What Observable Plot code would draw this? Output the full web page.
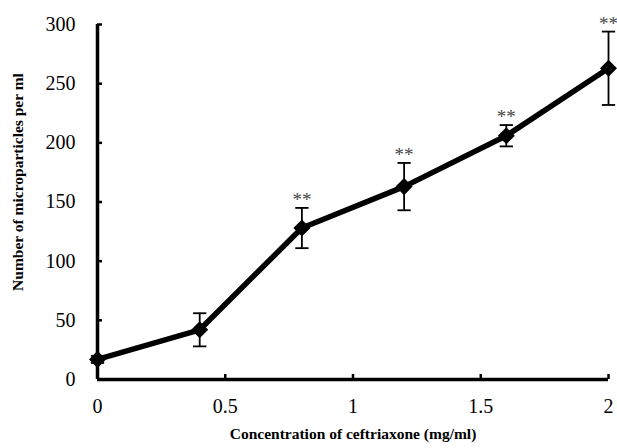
<!DOCTYPE html>
<html>
<head>
<meta charset="utf-8">
<script src="https://cdn.jsdelivr.net/npm/d3@7"></script>
<script src="https://cdn.jsdelivr.net/npm/@observablehq/plot@0.6"></script>
<style>
  html, body { margin: 0; padding: 0; background: #fff; }
  #chart svg { display: block; }
  #chart svg text { font-family: 'Liberation Serif', 'Times New Roman', serif; }
</style>
</head>
<body>
<div id="chart"></div>
<script>
// Data
const doses = [0, 0.4, 0.8, 1.2, 1.6, 2];
const means = [17, 42, 128, 163, 206, 263];
const errors = [3, 14, 17, 20, 9, 31];
const signif = ["", "", "**", "**", "**", "**"];
const xTicks = [0, 0.5, 1, 1.5, 2];
const xTickLabels = ["0", "0.5", "1", "1.5", "2"];
const yTicks = [0, 50, 100, 150, 200, 250, 300];

const data = doses.map((d, i) => ({
  dose: d, mean: means[i], low: means[i] - errors[i], high: means[i] + errors[i], sig: signif[i]
}));

const capSymbol = {
  draw(ctx, size) {
    const w = Math.sqrt(size);
    ctx.moveTo(-w / 2, 0);
    ctx.lineTo(w / 2, 0);
  }
};

const serif = "Liberation Serif";

const chart = Plot.plot({
  width: 617,
  height: 448,
  marginLeft: 97,
  marginRight: 9,
  marginTop: 24,
  marginBottom: 69,
  style: "background: #fff; color: #000; font-family: 'Liberation Serif', serif;",
  x: { domain: [0, 2] },
  y: { domain: [0, 300] },
  marks: [
    Plot.axisY({
      ticks: yTicks, tickSize: -5, tickPadding: 27, strokeWidth: 2.5,
      fontSize: 20, fontFamily: serif, label: null
    }),
    Plot.axisX({
      ticks: xTicks, tickFormat: (d, i) => xTickLabels[i], tickSize: -5, tickPadding: 24,
      strokeWidth: 2.5, fontSize: 20, fontFamily: serif, label: null
    }),
    Plot.ruleX([0], { y1: 0, y2: 300, strokeWidth: 3.5 }),
    Plot.ruleY([0], { x1: 0, x2: 2, strokeWidth: 3.5 }),
    Plot.ruleX(data, { x: "dose", y1: "low", y2: "high", strokeWidth: 1.8 }),
    Plot.dot(data, { x: "dose", y: "low", symbol: capSymbol, r: 7.5, stroke: "#000", strokeWidth: 1.8, fill: "none" }),
    Plot.dot(data, { x: "dose", y: "high", symbol: capSymbol, r: 7.5, stroke: "#000", strokeWidth: 1.8, fill: "none" }),
    Plot.line(data, { x: "dose", y: "mean", strokeWidth: 5.5, stroke: "#000" }),
    Plot.dot(data, { x: "dose", y: "mean", symbol: "square", rotate: 45, r: 6.8, fill: "#000", stroke: "none" }),
    Plot.text(data, { x: "dose", y: "high", text: "sig", dy: -8, fontSize: 19, fontFamily: serif, fill: "#444" }),
    Plot.text(["Concentration of ceftriaxone (mg/ml)"], {
      frameAnchor: "bottom", dy: 59, fontSize: 15.5, fontWeight: "bold", fontFamily: serif, text: d => d
    }),
    Plot.text(["Number of microparticles per ml"], {
      frameAnchor: "left", textAnchor: "middle", dx: -79, dy: -20, rotate: -90, fontSize: 15.5,
      fontWeight: "bold", fontFamily: serif, text: d => d
    })
  ]
});

document.getElementById("chart").appendChild(chart);
</script>
</body>
</html>
